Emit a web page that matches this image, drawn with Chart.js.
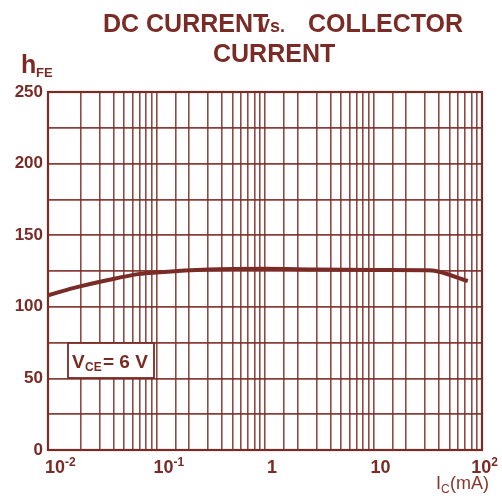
<!DOCTYPE html>
<html>
<head>
<meta charset="utf-8">
<script src="https://cdn.jsdelivr.net/npm/chart.js@4.4.1/dist/chart.umd.min.js"></script>
<style>
  body { margin: 0; background: #fff; }
  #wrap { position: absolute; left: 0; top: 0; width: 502px; height: 500px; }
</style>
</head>
<body>
<div id="wrap"><canvas id="myChart" width="502" height="500"></canvas></div>
<script>
// collector current (mA) and DC current gain
const currentMA = [0.01, 0.017, 0.035, 0.07, 0.1, 0.3, 1, 3, 10, 30, 35, 74];
const hFE = [108, 113, 118.5, 123, 124, 126, 126.5, 126, 125.7, 125.5, 125.3, 118];

const xTickValues = [0.01, 0.1, 1, 10, 100];
const xTickBase = ['10', '10', '1', '10', '10'];
const xTickExp = ['-2', '-1', '', '', '2'];
const yLabelStep = 50;

const ink = '#7a2b25';

const textPlugin = {
  id: 'textPlugin',
  afterDraw(chart) {
    const ctx = chart.ctx;
    const area = chart.chartArea;
    const xs = chart.scales.x;
    ctx.save();
    ctx.fillStyle = ink;
    ctx.strokeStyle = ink;
    ctx.textBaseline = 'alphabetic';
    ctx.textAlign = 'left';

    // outer frame
    ctx.lineWidth = 2.2;
    ctx.strokeRect(area.left, area.top, area.right - area.left, area.bottom - area.top);

    // title
    ctx.font = 'bold 25px "Liberation Sans", Arial, sans-serif';
    ctx.fillText('DC CURRENT', 103, 32);
    ctx.fillText('COLLECTOR', 308, 32);
    ctx.fillText('CURRENT', 213, 62);
    ctx.font = 'bold 18px "Liberation Sans", Arial, sans-serif';
    ctx.fillText('Vs.', 258, 32);

    // hFE
    ctx.font = 'bold 25px "Liberation Sans", Arial, sans-serif';
    ctx.fillText('h', 21, 73);
    ctx.font = 'bold 13px "Liberation Sans", Arial, sans-serif';
    ctx.fillText('FE', 36, 77);

    // x tick labels
    for (let i = 0; i < xTickValues.length; i++) {
      const px = xs.getPixelForValue(xTickValues[i]);
      ctx.font = 'bold 18px "Liberation Sans", Arial, sans-serif';
      const w1 = ctx.measureText(xTickBase[i]).width;
      ctx.font = 'bold 12px "Liberation Sans", Arial, sans-serif';
      const w2 = xTickExp[i] ? ctx.measureText(xTickExp[i]).width : 0;
      let left = px - 3;
      if (!xTickExp[i] && xTickBase[i] === '1') left = px + 2;
      if (left + w1 + w2 > 498) left = 498 - w1 - w2;
      ctx.font = 'bold 18px "Liberation Sans", Arial, sans-serif';
      ctx.fillText(xTickBase[i], left, 473);
      if (xTickExp[i]) {
        ctx.font = 'bold 12px "Liberation Sans", Arial, sans-serif';
        ctx.fillText(xTickExp[i], left + w1, 466);
      }
    }

    // axis unit
    ctx.fillStyle = '#8a3530';
    ctx.font = '18px "Liberation Sans", Arial, sans-serif';
    ctx.fillText('I', 436, 489);
    ctx.font = '12px "Liberation Sans", Arial, sans-serif';
    ctx.fillText('C', 441, 493);
    ctx.font = '18px "Liberation Sans", Arial, sans-serif';
    ctx.fillText('(mA)', 450, 489);

    // VCE box
    ctx.fillStyle = '#fff';
    ctx.fillRect(68, 343, 86, 35);
    ctx.lineWidth = 1.8;
    ctx.strokeStyle = ink;
    ctx.strokeRect(68, 343, 86, 35);
    ctx.fillStyle = ink;
    ctx.font = 'bold 19px "Liberation Sans", Arial, sans-serif';
    ctx.fillText('V', 72, 368);
    ctx.font = 'bold 12px "Liberation Sans", Arial, sans-serif';
    ctx.fillText('CE', 85, 371);
    ctx.font = 'bold 19px "Liberation Sans", Arial, sans-serif';
    ctx.fillText('= 6 V', 103, 368);
    ctx.restore();
  }
};

const ctx = document.getElementById('myChart').getContext('2d');
const myChart = new Chart(ctx, {
  type: 'line',
  data: {
    datasets: [{
      data: currentMA.map((c, i) => ({ x: c, y: hFE[i] })),
      borderColor: ink,
      borderWidth: 4,
      pointRadius: 0,
      cubicInterpolationMode: 'monotone',
      fill: false
    }]
  },
  options: {
    responsive: false,
    animation: false,
    devicePixelRatio: 1,
    layout: { padding: { top: 92, right: 20, left: 0, bottom: 0 } },
    plugins: { legend: { display: false }, tooltip: { enabled: false } },
    scales: {
      x: {
        type: 'logarithmic',
        min: 0.01,
        max: 100,
        afterFit: s => { s.height = 50; },
        grid: { color: 'rgba(122,43,37,0.85)', lineWidth: 1.6, drawTicks: false },
        border: { color: ink, width: 2 },
        ticks: { display: false, autoSkip: false }
      },
      y: {
        min: 0,
        max: 250,
        afterFit: s => { s.width = 48; },
        grid: { color: 'rgba(122,43,37,0.9)', lineWidth: 1.8, drawTicks: false },
        border: { color: ink, width: 2 },
        ticks: {
          stepSize: 25,
          padding: 5,
          color: ink,
          font: { family: '"Liberation Sans", Arial, sans-serif', size: 17, weight: 'bold' },
          callback: v => (v % yLabelStep === 0 ? String(v) : '')
        }
      }
    }
  },
  plugins: [textPlugin]
});
</script>
</body>
</html>
